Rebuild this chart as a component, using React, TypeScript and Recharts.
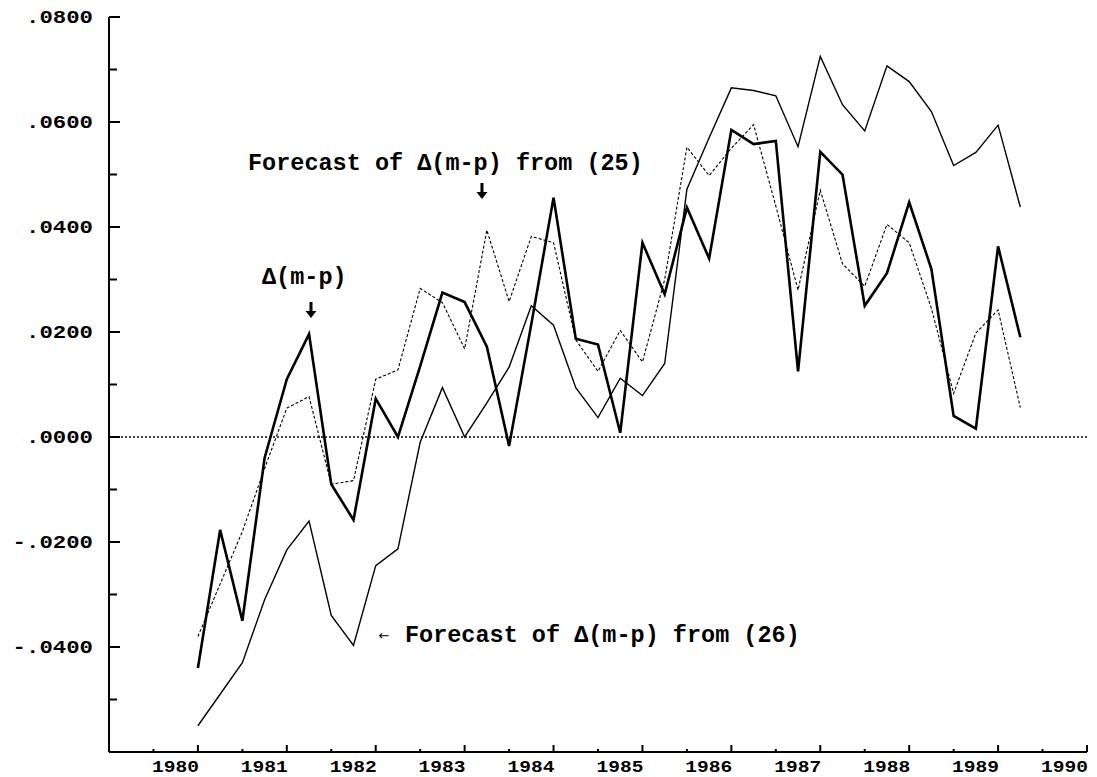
import React from "react";
import { LineChart, Line, XAxis, YAxis, ReferenceLine, ReferenceDot } from "recharts";

const quarters = [
  1980, 1980.25, 1980.5, 1980.75, 1981, 1981.25, 1981.5, 1981.75,
  1982, 1982.25, 1982.5, 1982.75, 1983, 1983.25, 1983.5, 1983.75,
  1984, 1984.25, 1984.5, 1984.75, 1985, 1985.25, 1985.5, 1985.75,
  1986, 1986.25, 1986.5, 1986.75, 1987, 1987.25, 1987.5, 1987.75,
  1988, 1988.25, 1988.5, 1988.75, 1989, 1989.25,
];

// Δ(m-p) actual
const actual = [
  -0.044, -0.0177, -0.035, -0.004, 0.011, 0.0196, -0.009, -0.0158,
  0.0073, 0.0, 0.0135, 0.0275, 0.0257, 0.0172, -0.0017, 0.0215,
  0.0456, 0.0187, 0.0176, 0.0008, 0.037, 0.0272, 0.0437, 0.034,
  0.0585, 0.0558, 0.0564, 0.0125, 0.0543, 0.05, 0.025, 0.0312,
  0.0447, 0.032, 0.004, 0.0016, 0.0363, 0.019,
];

// Forecast from (25)
const forecast25 = [
  -0.038, -0.028, -0.018, -0.006, 0.0055, 0.0077, -0.009, -0.0083,
  0.011, 0.0128, 0.0283, 0.0256, 0.0168, 0.0394, 0.0258, 0.0382,
  0.037, 0.0185, 0.0125, 0.0203, 0.0143, 0.03, 0.0552, 0.0498,
  0.055, 0.0595, 0.044, 0.028, 0.047, 0.033, 0.0287, 0.0405,
  0.037, 0.0245, 0.0083, 0.0198, 0.0242, 0.0056,
];

// Forecast from (26)
const forecast26 = [
  -0.055, -0.049, -0.043, -0.031, -0.0215, -0.016, -0.034, -0.0397,
  -0.0245, -0.0213, -0.001, 0.0094, 0.0, 0.0065, 0.0133, 0.025,
  0.0213, 0.0094, 0.0037, 0.0112, 0.0079, 0.014, 0.0472, 0.057,
  0.0665, 0.066, 0.065, 0.0553, 0.0725, 0.0633, 0.0583, 0.0707,
  0.0677, 0.062, 0.0517, 0.0542, 0.0594, 0.0438,
];

const yMajorTicks = [-0.04, -0.02, 0, 0.02, 0.04, 0.06, 0.08];
const yTickLabels = ["-.0400", "-.0200", ".0000", ".0200", ".0400", ".0600", ".0800"];
const yMinorTicks = [-0.05, -0.03, -0.01, 0.01, 0.03, 0.05, 0.07];

const xMajorTicks = [1980, 1981, 1982, 1983, 1984, 1985, 1986, 1987, 1988, 1989, 1990];
const xTickLabels = ["1980", "1981", "1982", "1983", "1984", "1985", "1986", "1987", "1988", "1989", "1990"];
const xMinorTicks = [1979.5, 1980.5, 1981.5, 1982.5, 1983.5, 1984.5, 1985.5, 1986.5, 1987.5, 1988.5, 1989.5];

const annotations = [
  { t: 1980.5634, v: 0.050857, text: "Forecast of Δ(m-p) from (25)", kind: "text" },
  { t: 1983.195, v: 0.045333, text: "↓", kind: "down" },
  { t: 1980.7209, v: 0.029143, text: "Δ(m-p)", kind: "text" },
  { t: 1981.272, v: 0.022667, text: "↓", kind: "down" },
  { t: 1982.093, v: -0.038667, text: "←", kind: "left" },
  { t: 1982.329, v: -0.039048, text: "Forecast of Δ(m-p) from (26)", kind: "text" },
];

const data = quarters.map((t, i) => ({
  t,
  actual: actual[i],
  f25: forecast25[i],
  f26: forecast26[i],
}));

const FONT = "'Liberation Mono', 'Courier New', monospace";

const YTick = (props: any) => {
  const { x, y, payload } = props;
  const idx = yMajorTicks.indexOf(payload.value);
  const major = idx >= 0;
  return (
    <g>
      <line x1={x} x2={x + (major ? 11 : 8)} y1={y} y2={y} stroke="#000" strokeWidth={2} />
      {major && (
        <text
          x={x - 16}
          y={y}
          dy={6}
          textAnchor="end"
          fontFamily={FONT}
          fontWeight="bold"
          fontSize={18}
          textLength={yTickLabels[idx].length * 13.4}
          lengthAdjust="spacingAndGlyphs"
          fill="#000"
        >
          {yTickLabels[idx]}
        </text>
      )}
    </g>
  );
};

const XTick = (props: any) => {
  const { x, y, payload } = props;
  const idx = xMajorTicks.indexOf(payload.value);
  const major = idx >= 0;
  return (
    <g>
      <line x1={x} x2={x} y1={y} y2={y - (major ? 7 : 3)} stroke="#000" strokeWidth={2} />
      {major && (
        <text
          x={x + 1}
          y={y + 20}
          textAnchor="end"
          fontFamily={FONT}
          fontWeight="bold"
          fontSize={17}
          textLength={47}
          lengthAdjust="spacingAndGlyphs"
          fill="#000"
        >
          {xTickLabels[idx]}
        </text>
      )}
    </g>
  );
};

const makeLabel = (a: { text: string; kind: string }) => (props: any) => {
  const vb = props.viewBox || {};
  const x = (vb.x ?? 0) + (vb.width ?? 0) / 2;
  const y = (vb.y ?? 0) + (vb.height ?? 0) / 2;
  if (a.kind === "text") {
    return (
      <text
        x={x}
        y={y}
        textAnchor="start"
        fontFamily={FONT}
        fontWeight="bold"
        fontSize={23}
        textLength={a.text.length * 14.1}
        lengthAdjust="spacingAndGlyphs"
        fill="#000"
      >
        {a.text}
      </text>
    );
  }
  if (a.kind === "down") {
    // bold down arrow: stem + head, tip at (x, y)
    return (
      <g>
        <title>{a.text}</title>
        <rect x={x - 1.5} y={y - 16} width={3} height={10} fill="#000" />
        <path d={`M ${x - 5.5} ${y - 7} L ${x + 5.5} ${y - 7} L ${x} ${y} Z`} fill="#000" />
      </g>
    );
  }
  return (
    <text x={x} y={y} textAnchor="middle" fontFamily="'DejaVu Sans', sans-serif" fontSize={13} fill="#000">
      {a.text}
    </text>
  );
};

export default function App() {
  const allYTicks = [...yMinorTicks, ...yMajorTicks].sort((a, b) => a - b);
  const allXTicks = [...xMinorTicks, ...xMajorTicks].sort((a, b) => a - b);
  return (
    <div style={{ width: 1089, height: 769, background: "#fff" }}>
      <LineChart width={1089} height={769} data={data} margin={{ top: 9, right: 10, bottom: 0, left: 0 }}>
        <XAxis
          dataKey="t"
          type="number"
          domain={[1979, 1990]}
          ticks={allXTicks}
          interval={0}
          tickLine={false}
          tickSize={0}
          tickMargin={0}
          height={25}
          axisLine={{ stroke: "#000", strokeWidth: 2 }}
          tick={<XTick />}
          allowDataOverflow
        />
        <YAxis
          type="number"
          domain={[-0.06, 0.08]}
          ticks={allYTicks}
          interval={0}
          tickLine={false}
          tickSize={0}
          tickMargin={0}
          width={101}
          axisLine={{ stroke: "#000", strokeWidth: 2 }}
          tick={<YTick />}
          allowDataOverflow
        />
        <ReferenceLine y={0} stroke="#000" strokeWidth={1.5} strokeDasharray="2 2" />
        <Line
          type="linear"
          dataKey="f26"
          stroke="#000"
          strokeWidth={1.4}
          dot={false}
          activeDot={false}
          isAnimationActive={false}
        />
        <Line
          type="linear"
          dataKey="f25"
          stroke="#000"
          strokeWidth={1.1}
          strokeDasharray="3 2"
          dot={false}
          activeDot={false}
          isAnimationActive={false}
        />
        <Line
          type="linear"
          dataKey="actual"
          stroke="#000"
          strokeWidth={2.6}
          dot={false}
          activeDot={false}
          isAnimationActive={false}
        />
        {annotations.map((a, i) => (
          <ReferenceDot
            key={i}
            x={a.t}
            y={a.v}
            r={0}
            fill="none"
            stroke="none"
            label={makeLabel(a)}
          />
        ))}
      </LineChart>
    </div>
  );
}
